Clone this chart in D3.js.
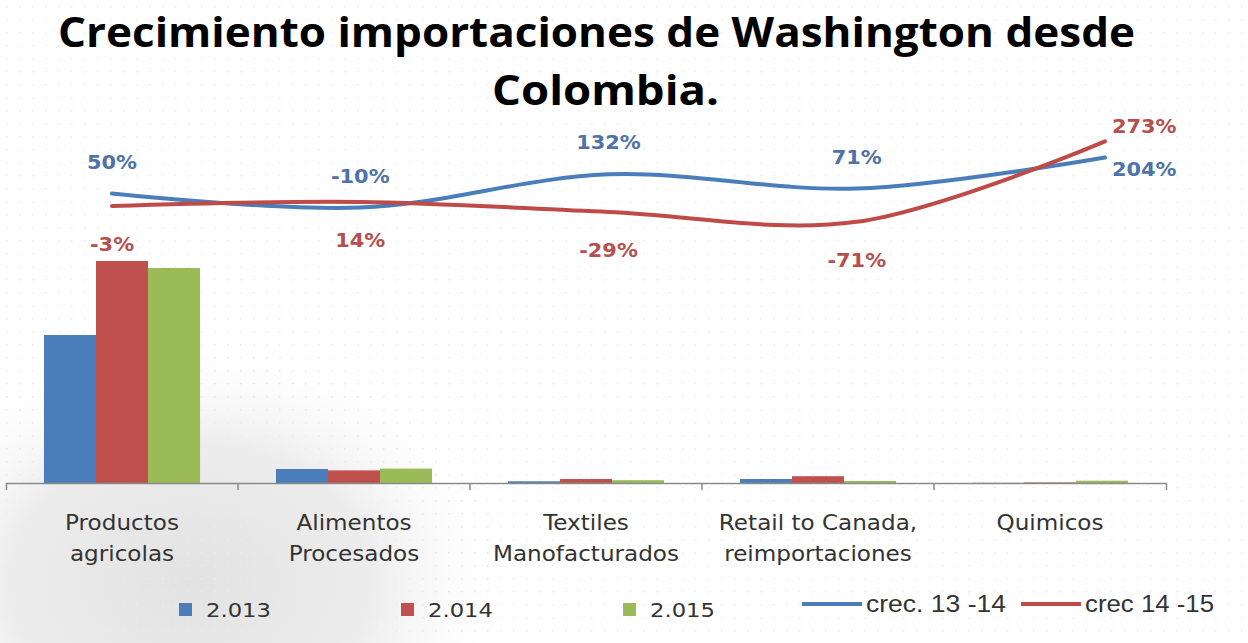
<!DOCTYPE html>
<html>
<head>
<meta charset="utf-8">
<script src="https://cdn.jsdelivr.net/npm/d3@7"></script>
<style>
body { margin: 0; background: #fff; }
</style>
</head>
<body>
<script>
// data (bar values in arbitrary units, growth in %)
var categories = ['Productos agricolas', 'Alimentos Procesados', 'Textiles Manofacturados', 'Retail to Canada, reimportaciones', 'Quimicos']
var years = ['2.013', '2.014', '2.015']
var values_2013 = [148, 14, 1.7, 4, 0.2]
var values_2014 = [222, 12.6, 4, 6.8, 0.6]
var values_2015 = [215, 14.4, 2.8, 2.0, 2.3]
var growth_13_14 = [50, -10, 132, 71, 204]
var growth_14_15 = [-3, 14, -29, -71, 273]
var line_names = ['crec. 13 -14', 'crec 14 -15']

var bar_colors = ['#4a7ebb', '#c0504d', '#9bbb59']
var line_colors = ['#4a7ebb', '#be4b48']
var label_colors = ['#4f73a8', '#b5504e']

function plot_it() {
    var svgWidth = 1248, svgHeight = 643
    var svg = d3.select('body').append('svg').attr('width', svgWidth).attr('height', svgHeight).attr('id', 'svg0')

    // faint background: watermark + dotted pattern
    var defs = svg.append('defs')
    var pat = defs.append('pattern').attr('id', 'dots').attr('width', 13).attr('height', 13).attr('patternUnits', 'userSpaceOnUse')
    pat.append('rect').attr('x', 6).attr('y', 6).attr('width', 1.5).attr('height', 1.5).attr('fill', '#ebebeb')
    var grad = defs.append('radialGradient').attr('id', 'wm').attr('cx', '45%').attr('cy', '70%').attr('r', '55%')
    grad.append('stop').attr('offset', '0%').attr('stop-color', '#e2e2e2').attr('stop-opacity', 1)
    grad.append('stop').attr('offset', '55%').attr('stop-color', '#e8e8e8').attr('stop-opacity', 0.8)
    grad.append('stop').attr('offset', '100%').attr('stop-color', '#ffffff').attr('stop-opacity', 0)
    svg.append('rect').attr('width', svgWidth).attr('height', svgHeight).attr('fill', '#fff')
    svg.append('rect').attr('x', -80).attr('y', 260).attr('width', 600).attr('height', 460).attr('fill', 'url(#wm)')
    svg.append('rect').attr('width', svgWidth).attr('height', svgHeight).attr('fill', 'url(#dots)')

    // title
    var title = svg.append('g').attr('font-family', '"Open Sans", "DejaVu Sans", sans-serif').attr('font-weight', 'bold').attr('fill', '#000')
    title.append('text').attr('x', 58).attr('y', 47).attr('font-size', 41)
        .attr('textLength', 1077).attr('lengthAdjust', 'spacingAndGlyphs')
        .text('Crecimiento importaciones de Washington desde')
    title.append('text').attr('x', 492).attr('y', 105).attr('font-size', 41)
        .attr('textLength', 227).attr('lengthAdjust', 'spacingAndGlyphs')
        .text('Colombia.')

    // scales
    var baseline = 483
    var x0 = d3.scaleBand().domain(categories).range([6, 1166])
    var x1 = d3.scaleBand().domain(years).range([0, x0.bandwidth()]).paddingInner(0).paddingOuter(0.73)
    var y = d3.scaleLinear().domain([0, 300]).range([baseline, baseline - 300])
    var x_line = d3.scalePoint().domain(categories).range([112, 1105])
    var y_pct = d3.scaleLinear().domain([-1200, 300]).range([486, 135])

    // bars
    var series = [values_2013, values_2014, values_2015]
    var bar_data = []
    series.forEach((vals, si) => {
        vals.forEach((v, ci) => bar_data.push({cat: categories[ci], year: years[si], value: v, si: si}))
    })
    svg.append('g').attr('id', 'bars').selectAll('rect').data(bar_data).enter().append('rect')
        .attr('x', d => x0(d.cat) + x1(d.year))
        .attr('y', d => y(d.value))
        .attr('width', x1.bandwidth())
        .attr('height', d => baseline - y(d.value))
        .attr('fill', d => bar_colors[d.si])

    // category axis
    var axis = svg.append('g').attr('transform', 'translate(0,' + baseline + ')')
        .call(d3.axisBottom(x0).tickSizeInner(0).tickSizeOuter(7).tickPadding(0).tickFormat(''))
    axis.select('.domain').attr('stroke', '#8a8a8a').attr('stroke-width', 1.5)
    axis.selectAll('.tick line').remove()
    axis.selectAll('.bound').data(categories.slice(1)).enter().append('line').attr('class', 'bound')
        .attr('x1', d => x0(d)).attr('x2', d => x0(d)).attr('y1', 0).attr('y2', 7)
        .attr('stroke', '#8a8a8a').attr('stroke-width', 1.5)

    function split_label(s) {
        if (s.indexOf(', ') > -1) { var i = s.indexOf(', '); return [s.slice(0, i + 1), s.slice(i + 2)] }
        if (s.indexOf(' ') > -1) { var j = s.indexOf(' '); return [s.slice(0, j), s.slice(j + 1)] }
        return [s]
    }
    var cat_labels = svg.append('g').attr('font-family', '"DejaVu Sans", sans-serif').attr('font-size', 21).attr('fill', '#333')
    categories.forEach(c => {
        split_label(c).forEach((line, li) => {
            cat_labels.append('text')
                .attr('transform', 'translate(' + (x0(c) + x0.bandwidth() / 2) + ',' + (530 + li * 31) + ') scale(1.1,1)')
                .attr('text-anchor', 'middle').text(line)
        })
    })

    // growth lines
    var growth = [growth_13_14, growth_14_15]
    var line0 = d3.line().x((d, i) => x_line(categories[i])).y(d => y_pct(d)).curve(d3.curveCatmullRom.alpha(0.5))
    svg.append('g').attr('id', 'lines').selectAll('path').data(growth).enter().append('path')
        .attr('d', d => line0(d)).attr('fill', 'none')
        .attr('stroke', (d, i) => line_colors[i]).attr('stroke-width', 4).attr('stroke-linecap', 'round')

    // data labels: blue above, red below, last point to the right
    var lab = svg.append('g').attr('font-family', '"DejaVu Sans", sans-serif').attr('font-weight', 'bold').attr('font-size', 19)
    growth.forEach((vals, si) => {
        vals.forEach((v, i) => {
            var px = x_line(categories[i]), py = y_pct(v)
            var last = i == vals.length - 1
            var tx = last ? px + 7 : px
            var ty = last ? (si == 0 ? py + 19 : py - 8) : (si == 0 ? py - 25 : py + 45)
            lab.append('text').attr('transform', 'translate(' + tx + ',' + ty + ') scale(1.1,1)')
                .attr('text-anchor', last ? 'start' : 'middle')
                .attr('fill', label_colors[si]).text(v + '%')
        })
    })

    // legend
    var leg = svg.append('g').attr('font-family', '"DejaVu Sans", sans-serif').attr('font-size', 20).attr('fill', '#333')
    var leg_x = d3.scalePoint().domain(years).range([179, 623])
    years.forEach((yr, i) => {
        leg.append('rect').attr('x', leg_x(yr)).attr('y', 603).attr('width', 13).attr('height', 13).attr('fill', bar_colors[i])
        leg.append('text').attr('x', leg_x(yr) + 27).attr('y', 617)
            .attr('textLength', 65).attr('lengthAdjust', 'spacingAndGlyphs').text(yr)
    })
    var leg_line_x = d3.scalePoint().domain(line_names).range([802, 1021])
    var name_len = [140, 129]
    line_names.forEach((nm, i) => {
        var lx = leg_line_x(nm)
        leg.append('line').attr('x1', lx).attr('x2', lx + 60).attr('y1', 604).attr('y2', 604)
            .attr('stroke', line_colors[i]).attr('stroke-width', 4)
        leg.append('text').attr('x', lx + 64).attr('y', 612).attr('font-family', '"Liberation Sans Narrow", "Liberation Sans", sans-serif')
            .attr('font-size', 23).attr('textLength', name_len[i]).attr('lengthAdjust', 'spacingAndGlyphs').text(nm)
    })
}
plot_it()
</script>
</body>
</html>
